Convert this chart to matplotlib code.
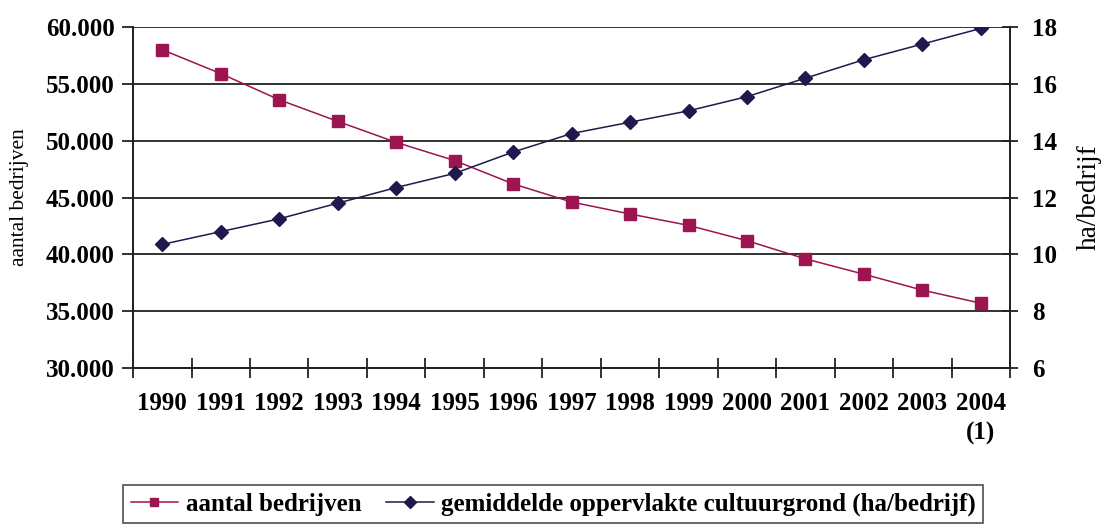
import numpy as np
import matplotlib
matplotlib.use("Agg")
import matplotlib.pyplot as plt
from matplotlib.ticker import FuncFormatter

plt.rcParams['font.family'] = ['Liberation Serif', 'DejaVu Serif']

# data
years = ['1990', '1991', '1992', '1993', '1994', '1995', '1996', '1997',
         '1998', '1999', '2000', '2001', '2002', '2003', '2004\n(1)']
bedrijven = [58000, 55900, 53600, 51700, 49850, 48250, 46200, 44600,
             43550, 42550, 41200, 39600, 38250, 36850, 35700]
oppervlakte = [10.35, 10.8, 11.25, 11.8, 12.35, 12.85, 13.6, 14.25,
               14.65, 15.05, 15.55, 16.2, 16.85, 17.4, 17.95]

pink = '#9c1450'
navy = '#1e1a4e'

fig = plt.figure(figsize=(11.04, 5.25), dpi=100)
ax = fig.add_axes([0.1205, 0.299, 0.7945, 0.6496])
ax2 = ax.twinx()

x = np.arange(len(years))
l1, = ax.plot(x, bedrijven, color=pink, lw=1.1, marker='s', ms=8.5,
              markerfacecolor=pink, markeredgecolor=pink,
              label='aantal bedrijven')
l2, = ax2.plot(x, oppervlakte, color=navy, lw=1.1, marker='D', ms=7.5,
               markerfacecolor=navy, markeredgecolor=navy,
               label='gemiddelde oppervlakte cultuurgrond (ha/bedrijf)')

ax.set_xlim(-0.5, len(years) - 0.5)
ax.set_ylim(30000, 60000)
ax.set_yticks(np.arange(30000, 60001, 5000))
ax.yaxis.set_major_formatter(FuncFormatter(lambda v, p: f'{int(v):,}'.replace(',', '.')))
ax2.set_ylim(6, 18)
ax2.set_yticks(np.arange(6, 19, 2))

ax.grid(axis='y', color='#222222', lw=1.3)
ax.set_axisbelow(True)

# ticks between categories, labels at centres
ax.set_xticks(np.arange(-0.5, len(years), 1))
ax.set_xticklabels([])
ax.set_xticks(x, minor=True)
ax.set_xticklabels(years, minor=True, fontsize=18, fontweight='bold',
                   linespacing=1.4)
ax.tick_params(axis='x', which='major', direction='inout', length=15,
               width=1.3, color='#222222')
ax.tick_params(axis='x', which='minor', length=0, pad=17)

ax.tick_params(axis='y', direction='out', length=8, width=1.3, pad=5,
               labelsize=18, color='#222222')
for t in ax.get_yticklabels():
    t.set_fontweight('bold')
ax2.tick_params(axis='y', direction='inout', length=12, width=1.3, pad=10,
                labelsize=18, color='#222222')
for t in ax2.get_yticklabels():
    t.set_fontweight('bold')

for a in (ax, ax2):
    a.spines['top'].set_visible(False)
    for s in ('left', 'right', 'bottom'):
        a.spines[s].set_linewidth(1.3)
        a.spines[s].set_color('#222222')

ax.set_ylabel('aantal bedrijven', fontsize=15.5, labelpad=12)
ax2.set_ylabel('ha/bedrijf', fontsize=19.5, labelpad=14)

leg = fig.legend(handles=[l1, l2], loc='upper left',
                 bbox_to_anchor=(123 / 1104, 1 - 485 / 525), ncol=2,
                 frameon=True, fancybox=False, edgecolor='#222222',
                 prop={'size': 18, 'weight': 'bold'}, handlelength=1.9,
                 handletextpad=0.3, columnspacing=1.0, borderpad=0.3,
                 borderaxespad=0)
leg.get_frame().set_linewidth(1.2)
for h in leg.legend_handles:
    h.set_markersize(6)

fig.savefig('out.png', dpi=100)
